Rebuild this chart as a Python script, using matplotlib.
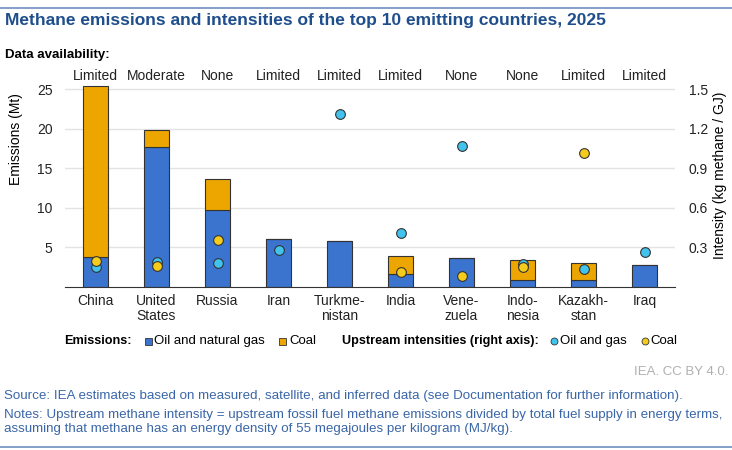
import numpy as np
import matplotlib.pyplot as plt
from matplotlib.lines import Line2D
from matplotlib.patches import Rectangle

plt.rcParams["font.family"] = ["Liberation Sans", "DejaVu Sans"]

# data
countries = ["China", "United\nStates", "Russia", "Iran", "Turkme-\nnistan",
             "India", "Vene-\nzuela", "Indo-\nnesia", "Kazakh-\nstan", "Iraq"]
availability = ["Limited", "Moderate", "None", "Limited", "Limited",
                "Limited", "None", "None", "Limited", "Limited"]
oil_gas_mt = [3.7, 17.7, 9.7, 6.1, 5.8, 1.6, 3.6, 0.9, 0.85, 2.7]
coal_mt = [21.7, 2.2, 3.9, 0.0, 0.0, 2.3, 0.0, 2.5, 2.15, 0.0]
oil_gas_int = [0.15, 0.185, 0.18, 0.28, 1.31, 0.41, 1.07, 0.17, 0.135, 0.265]
coal_int = [0.195, 0.16, 0.355, np.nan, np.nan, 0.115, 0.08, 0.15, 1.015, np.nan]

blue = "#3b74cf"
orange = "#eda600"
cyan = "#41c3ee"
yellow = "#f5cb1c"
title_col = "#1f4e8c"
note_col = "#3a66a8"

W, H = 732, 450
fig = plt.figure(figsize=(W / 100, H / 100), dpi=100)
ax = fig.add_axes([65 / W, 1 - 286.7 / H, 610 / W, 26 * 7.896 / H])
ax2 = ax.twinx()

x = np.arange(len(countries))
w = 0.42
ax.bar(x, oil_gas_mt, w, color=blue, edgecolor="#333333", linewidth=0.8, zorder=2)
ax.bar(x, coal_mt, w, bottom=oil_gas_mt, color=orange, edgecolor="#333333",
       linewidth=0.8, zorder=2)

ax2.plot(x, oil_gas_int, "o", color=cyan, markeredgecolor="#333333",
         markeredgewidth=0.8, markersize=7, zorder=3)
ax2.plot(x, coal_int, "o", color=yellow, markeredgecolor="#333333",
         markeredgewidth=0.8, markersize=7, zorder=4)

ax.set_xlim(-0.5, len(countries) - 0.5)
ax.set_ylim(0, 26)
ax2.set_ylim(0, 26 * 1.5 / 25)
ax.set_yticks([5, 10, 15, 20, 25])
ax2.set_yticks([0.3, 0.6, 0.9, 1.2, 1.5])
ax.set_xticks(x)
ax.set_xticklabels(countries, fontsize=10, linespacing=1.15)
ax.grid(axis="y", color="#e3e3e3", linewidth=1, zorder=0)
ax.set_axisbelow(True)
for a in (ax, ax2):
    for s in ("top", "left", "right"):
        a.spines[s].set_visible(False)
    a.tick_params(length=0, labelsize=10, colors="#222222")
ax.spines["bottom"].set_color("#333333")
ax2.spines["bottom"].set_visible(False)
ax.tick_params(axis="y", pad=9)
ax.tick_params(axis="x", pad=5)
ax2.tick_params(axis="y", pad=10)

# axis titles sit at the top of the plot area
fig.text(16 / W, 1 - 93 / H, "Emissions (Mt)", rotation=90, fontsize=10,
         ha="center", va="top")
fig.text(720 / W, 1 - 92 / H, "Intensity (kg methane / GJ)", rotation=90, fontsize=10,
         ha="center", va="top")

for xi, lab in zip(x, availability):
    ax.text(xi, 25.85, lab, ha="center", va="bottom", fontsize=10, color="#222222")

# header and footer
fig.add_artist(Line2D([0, 1], [1 - 8 / H] * 2, color="#6f8fbf", linewidth=1.2))
fig.add_artist(Line2D([0, 1], [1 - 447 / H] * 2, color="#6f8fbf", linewidth=1.2))
fig.text(5 / W, 1 - 21 / H, "Methane emissions and intensities of the top 10 emitting countries, 2025",
         fontsize=12.5, fontweight="bold", color=title_col, va="center")
fig.text(5 / W, 1 - 55 / H, "Data availability:", fontsize=9.5, fontweight="bold", va="center")

# legend row, laid out left to right
ly = 1 - 341 / H
renderer = fig.canvas.get_renderer()
cur = 64.0


def put_text(s, gap_after, bold=False):
    global cur
    t = fig.text(cur / W, ly, s, fontsize=9.1 if bold else 9.5,
                 fontweight="bold" if bold else "normal", va="center")
    cur += t.get_window_extent(renderer).width + gap_after


def put_square(col):
    global cur
    fig.add_artist(Rectangle((cur / W, ly - 4 / H), 7 / W, 7 / H, facecolor=col,
                             edgecolor="#333333", linewidth=0.6, transform=fig.transFigure))
    cur += 10


def put_dot(col):
    global cur
    fig.add_artist(Line2D([(cur + 3) / W], [ly], marker="o", markersize=5, color=col,
                          markeredgecolor="#333333", markeredgewidth=0.6,
                          transform=fig.transFigure))
    cur += 9


put_text("Emissions:", 13, bold=True)
put_square(blue)
put_text("Oil and natural gas", 14)
put_square(orange)
put_text("Coal", 26)
put_text("Upstream intensities (right axis):", 12, bold=True)
put_dot(cyan)
put_text("Oil and gas", 15)
put_dot(yellow)
put_text("Coal", 0)

fig.text(728 / W, 1 - 372 / H, "IEA. CC BY 4.0.", fontsize=9.5, color="#b0b0b0",
         ha="right", va="center")
fig.text(4 / W, 1 - 396 / H,
         "Source: IEA estimates based on measured, satellite, and inferred data (see Documentation for further information).",
         fontsize=9.6, color=note_col, va="center")
fig.text(4 / W, 1 - 422 / H,
         "Notes: Upstream methane intensity = upstream fossil fuel methane emissions divided by total fuel supply in energy terms,\n"
         "assuming that methane has an energy density of 55 megajoules per kilogram (MJ/kg).",
         fontsize=9.6, color=note_col, va="center", linespacing=1.3)

fig.savefig("out.png", dpi=100)
